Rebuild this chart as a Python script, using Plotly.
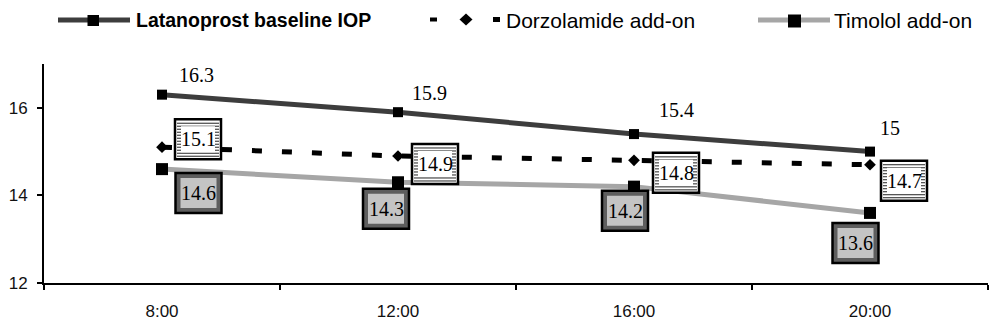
import plotly.graph_objects as go

# ---------------- data ----------------
times = ["8:00", "12:00", "16:00", "20:00"]
latanoprost = [16.3, 15.9, 15.4, 15.0]
dorzolamide = [15.1, 14.9, 14.8, 14.7]
timolol = [14.6, 14.3, 14.2, 13.6]
lat_labels = ["16.3", "15.9", "15.4", "15"]
dor_labels = ["15.1", "14.9", "14.8", "14.7"]
tim_labels = ["14.6", "14.3", "14.2", "13.6"]
y_ticks = [12, 14, 16]
series_names = ["Latanoprost baseline IOP", "Dorzolamide add-on", "Timolol add-on"]

# ---------------- style / layout ----------------
W, H = 1000, 328
ML, MR, MT, MB = 44, 12, 64, 45
PW, PH = W - ML - MR, H - MT - MB

lat_off = [(34, 20), (31, 19), (42, 24), (20, 24)]
dor_off = [(36, 8), (37, -8), (42, -12.5), (34, -16)]
tim_off = [(36.5, -24), (-12, -26.5), (-9, -24), (-14.5, -30)]

SERIF = "Liberation Serif, Times New Roman, serif"
SANS = "Liberation Sans, Arial, sans-serif"
LABEL_SIZE = 20

fig = go.Figure()
fig.add_trace(go.Scatter(x=times, y=latanoprost, mode="lines+markers", name=series_names[0],
                         line=dict(color="#3d3d3d", width=5),
                         marker=dict(symbol="square", size=10, color="black")))
fig.add_trace(go.Scatter(x=times, y=dorzolamide, mode="lines+markers", name=series_names[1],
                         line=dict(color="black", width=5, dash="10px,20px"),
                         marker=dict(symbol="diamond", size=9, color="black")))
fig.add_trace(go.Scatter(x=times, y=timolol, mode="lines+markers", name=series_names[2],
                         line=dict(color="#a6a6a6", width=5),
                         marker=dict(symbol="square", size=12, color="black")))

shapes = []
annotations = []

# plain labels for latanoprost
for t, v, lab, (dx, dy) in zip(times, latanoprost, lat_labels, lat_off):
    annotations.append(dict(x=t, y=v, xref="x", yref="y", text=lab, showarrow=False,
                            xshift=dx, yshift=dy, font=dict(family=SERIF, size=LABEL_SIZE, color="black")))


def box_common(t, v):
    return dict(xref="x", yref="y", xsizemode="pixel", ysizemode="pixel",
                xanchor=t, yanchor=v, layer="above")


BW, BH = 46, 40
# striped boxes (dorzolamide)
for t, v, lab, (dx, dy) in zip(times, dorzolamide, dor_labels, dor_off):
    c = box_common(t, v)
    shapes.append(dict(type="rect", x0=dx - BW / 2, x1=dx + BW / 2, y0=dy - BH / 2, y1=dy + BH / 2,
                       fillcolor="white", line=dict(color="black", width=2.5), **c))
    k = -BH / 2 + 3
    while k <= BH / 2 - 2:
        shapes.append(dict(type="line", x0=dx - BW / 2 + 2, x1=dx + BW / 2 - 2, y0=dy + k, y1=dy + k,
                           line=dict(color="#222222", width=1), **c))
        k += 3
    shapes.append(dict(type="rect", x0=dx - 17, x1=dx + 17, y0=dy - 13, y1=dy + 13,
                       fillcolor="white", line=dict(width=0), **c))
    annotations.append(dict(x=t, y=v, xref="x", yref="y", text=lab, showarrow=False,
                            xshift=dx, yshift=dy, font=dict(family=SERIF, size=LABEL_SIZE, color="black")))

# checkered boxes (timolol)
for t, v, lab, (dx, dy) in zip(times, timolol, tim_labels, tim_off):
    c = box_common(t, v)
    shapes.append(dict(type="rect", x0=dx - BW / 2, x1=dx + BW / 2, y0=dy - BH / 2, y1=dy + BH / 2,
                       fillcolor="#5e5e5e", line=dict(color="black", width=2.5), **c))
    shapes.append(dict(type="rect", x0=dx - 18, x1=dx + 18, y0=dy - 15, y1=dy + 15,
                       fillcolor="#c4c4c4", line=dict(width=0), **c))
    annotations.append(dict(x=t, y=v, xref="x", yref="y", text=lab, showarrow=False,
                            xshift=dx, yshift=dy, font=dict(family=SERIF, size=LABEL_SIZE, color="black")))


# ---------------- manual legend ----------------
def px(x):
    return (x - ML) / PW


def py(y):
    return (MT + PH - y) / PH


LY = 20
shapes.append(dict(type="line", xref="paper", yref="paper", x0=px(58), x1=px(130), y0=py(LY), y1=py(LY),
                   line=dict(color="#3d3d3d", width=5)))
shapes.append(dict(type="rect", xref="paper", yref="paper", x0=px(87.5), x1=px(99), y0=py(15), y1=py(26),
                   fillcolor="black", line=dict(width=0)))
shapes.append(dict(type="rect", xref="paper", yref="paper", x0=px(430), x1=px(437), y0=py(17.5), y1=py(21.5),
                   fillcolor="black", line=dict(width=0)))
shapes.append(dict(type="path", xref="paper", yref="paper",
                   path="M {a},{b} L {c},{d} L {a},{e} L {f},{d} Z".format(
                       a=px(466), b=py(13.5), c=px(472.5), d=py(19.5), e=py(25.5), f=px(459.5)),
                   fillcolor="black", line=dict(width=0)))
shapes.append(dict(type="rect", xref="paper", yref="paper", x0=px(493), x1=px(500), y0=py(17), y1=py(22),
                   fillcolor="black", line=dict(width=0)))
shapes.append(dict(type="line", xref="paper", yref="paper", x0=px(758), x1=px(830), y0=py(LY), y1=py(LY),
                   line=dict(color="#a6a6a6", width=5)))
shapes.append(dict(type="rect", xref="paper", yref="paper", x0=px(788), x1=px(801), y0=py(14.5), y1=py(27.5),
                   fillcolor="black", line=dict(width=0)))

annotations.append(dict(xref="paper", yref="paper", x=px(134), y=py(LY), xanchor="left", yanchor="middle",
                        text="<b>" + series_names[0] + "</b>", showarrow=False,
                        font=dict(family=SANS, size=19.5, color="black")))
annotations.append(dict(xref="paper", yref="paper", x=px(504), y=py(LY), xanchor="left", yanchor="middle",
                        text=series_names[1], showarrow=False,
                        font=dict(family=SANS, size=21, color="black")))
annotations.append(dict(xref="paper", yref="paper", x=px(832), y=py(LY), xanchor="left", yanchor="middle",
                        text=series_names[2], showarrow=False,
                        font=dict(family=SANS, size=21, color="black")))

fig.update_layout(
    width=W, height=H,
    margin=dict(l=ML, r=MR, t=MT, b=MB, pad=0, autoexpand=False),
    paper_bgcolor="white", plot_bgcolor="white",
    showlegend=False,
    hovermode=False,
    shapes=shapes,
    annotations=annotations,
    xaxis=dict(type="category", range=[-0.5, 3.5], tickson="boundaries", ticks="outside",
               ticklen=5, tickwidth=1.5, tickcolor="black", showline=True, linecolor="black",
               linewidth=1.5, showgrid=False, zeroline=False, ticklabelstandoff=12, automargin=False,
               tickfont=dict(family=SANS, size=17, color="#111111")),
    yaxis=dict(range=[12, 17], tickvals=y_ticks, ticks="outside", ticklen=5, tickwidth=1.5,
               tickcolor="black", showline=True, linecolor="black", linewidth=2, automargin=False,
               showgrid=False, zeroline=False, ticklabelstandoff=6,
               tickfont=dict(family=SANS, size=17, color="#111111")),
)

fig.write_html("out.html", config={"displayModeBar": False},
               post_script="document.body.style.margin='0px';document.body.style.overflow='hidden';")
